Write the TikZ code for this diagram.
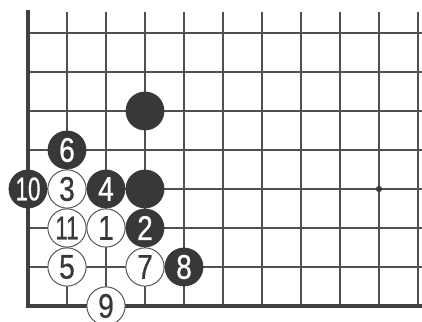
\documentclass[tikz,border=0pt]{standalone}
\usepackage{fontspec}
\newfontfamily\stonefont[FakeStretch=0.82,FakeBold=0.6]{Liberation Sans}
\newfontfamily\stonenarrow[FakeStretch=0.68,FakeBold=0.5]{Liberation Sans}
\definecolor{stoneblack}{HTML}{383838}
\definecolor{gridgray}{HTML}{505050}
\begin{document}
\begin{tikzpicture}[x=1cm,y=1cm,
  stone/.style={circle,minimum size=0.98cm,inner sep=0pt,font=\fontsize{25}{25}\selectfont\stonefont},
  blackstone/.style={stone,fill=stoneblack,draw=stoneblack,text=white},
  whitestone/.style={stone,fill=white,draw=gridgray,line width=0.7pt,text=gridgray!70!black},
  twodigit/.style={font=\fontsize{24}{24}\selectfont\stonenarrow}]
  \useasboundingbox (-0.718,-0.41) rectangle (10.103,7.846);
  % board lines
  \foreach \i in {1,...,10}
    \draw[gridgray,line width=0.8pt] (\i,0) -- (\i,7.54);
  \foreach \j in {1,...,7}
    \draw[gridgray,line width=0.8pt] (0,\j) -- (10.103,\j);
  \draw[gridgray!80!black,line width=2.6pt,line cap=rect] (0,7.54) -- (0,0) -- (10.103,0);
  \fill[stoneblack] (9,3) circle (0.08) coordinate (hoshi);
  % unnumbered stones
  \node[blackstone] (b1) at (3,5) {};
  \node[blackstone] (b2) at (3,3) {};
  % the sequence
  \node[whitestone] (s1) at (2,2) {1};
  \node[blackstone] (s2) at (3,2) {2};
  \node[whitestone] (s3) at (1,3) {3};
  \node[blackstone] (s4) at (2,3) {4};
  \node[whitestone] (s5) at (1,1) {5};
  \node[blackstone] (s6) at (1,4) {6};
  \node[whitestone] (s7) at (3,1) {7};
  \node[blackstone] (s8) at (4,1) {8};
  \node[whitestone] (s9) at (2,0) {9};
  \node[blackstone,twodigit] (s10) at (0,3) {10};
  \node[whitestone,twodigit] (s11) at (1,2) {11};
\end{tikzpicture}
\end{document}
